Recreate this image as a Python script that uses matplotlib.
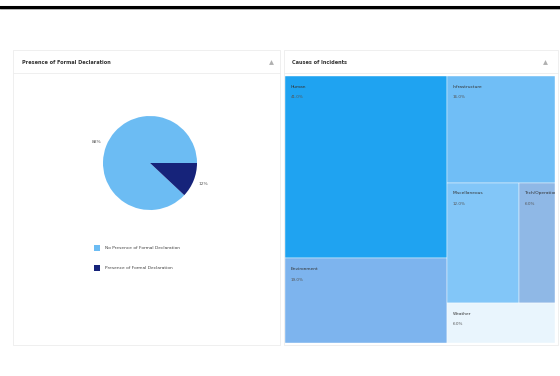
import matplotlib
matplotlib.use("Agg")
import matplotlib.pyplot as plt
from matplotlib.patches import Rectangle
from matplotlib.lines import Line2D

W, H = 560, 376
fig = plt.figure(figsize=(W / 100, H / 100), dpi=100)
fig.patch.set_facecolor("white")

def box(x0, y0, x1, y1):
    return [x0 / W, 1 - y1 / H, (x1 - x0) / W, (y1 - y0) / H]

# ---- data ----
pie_labels = ["No Presence of Formal Declaration", "Presence of Formal Declaration"]
pie_values = [88, 12]
pie_colors = ["#6cbcf3", "#16237a"]

tree_labels = ["Human", "Environment", "Infrastructure", "Miscellaneous", "Tech/Operational", "Weather"]
tree_values = [41, 19, 16, 12, 6, 6]
tree_colors = ["#1fa3f1", "#7db4ee", "#70bef6", "#82c6f8", "#8fb8e6", "#e9f5fd"]

left_title = "Presence of Formal Declaration"
right_title = "Causes of Incidents"

# ---- top rule ----
fig.add_artist(Line2D([0, 1], [1 - 7 / H, 1 - 7 / H], color="black", lw=2.2, transform=fig.transFigure))
fig.add_artist(Line2D([0, 1], [1 - 9.3 / H, 1 - 9.3 / H], color="#999999", lw=0.5, transform=fig.transFigure))

# ---- cards ----
bg = fig.add_axes([0, 0, 1, 1])
bg.set_xlim(0, W); bg.set_ylim(H, 0); bg.axis("off")
bg.add_patch(Rectangle((13, 50), 267, 295, fc="white", ec="#ececec", lw=0.6))
bg.add_patch(Rectangle((284, 50), 274, 295, fc="white", ec="#ececec", lw=0.6))
bg.plot([13, 280], [73, 73], color="#ededed", lw=0.6)
bg.plot([284, 558], [73, 73], color="#ededed", lw=0.6)
bg.text(22, 62, left_title, fontsize=3.6, fontweight="bold", color="#333333", va="center")
bg.text(292, 62, right_title, fontsize=3.6, fontweight="bold", color="#333333", va="center")
for x in (271, 545):
    bg.plot([x], [62], marker="^", ms=3.5, color="#b0b0b0", mec="none")

# ---- pie ----
r = 47
pax = fig.add_axes(box(150 - r, 163 - r, 150 + r, 163 + r))
wedges, _, autotexts = pax.pie(pie_values, colors=pie_colors, startangle=0, counterclock=True,
                               autopct="%1.0f%%", pctdistance=1.22, radius=1.0,
                               textprops=dict(fontsize=3.2, color="#555555"))
pax.set_xlim(-1, 1); pax.set_ylim(-1, 1)
pax.set_aspect("equal")
pax.axis("off")

for i, (lab, col) in enumerate(zip(pie_labels, pie_colors)):
    y = 248 + 20 * i
    bg.add_patch(Rectangle((94, y - 3), 6, 6, fc=col, ec="none"))
    bg.text(105, y, lab, fontsize=3.2, color="#444444", va="center")

# ---- treemap ----
tx0, ty0, tx1, ty1 = 285, 76, 555, 343
tax = fig.add_axes(box(tx0, ty0, tx1, ty1))
tax.set_xlim(0, 1); tax.set_ylim(1, 0); tax.axis("off")

total = sum(tree_values)
left_sum = tree_values[0] + tree_values[1]
right_sum = total - left_sum
lw_ = left_sum / total
rects = []
# left column: stacked vertically
h0 = tree_values[0] / left_sum
rects.append((0, 0, lw_, h0))
rects.append((0, h0, lw_, 1 - h0))
# right column
rw = 1 - lw_
htop = tree_values[2] / right_sum
hmid = (tree_values[3] + tree_values[4]) / right_sum
rects.append((lw_, 0, rw, htop))
wmid = tree_values[3] / (tree_values[3] + tree_values[4])
rects.append((lw_, htop, rw * wmid, hmid))
rects.append((lw_ + rw * wmid, htop, rw * (1 - wmid), hmid))
rects.append((lw_, htop + hmid, rw, 1 - htop - hmid))

for (x, y, w, h), lab, v, c in zip(rects, tree_labels, tree_values, tree_colors):
    tax.add_patch(Rectangle((x, y), w, h, fc=c, ec="white", lw=0.3))
    tax.text(x + 0.02, y + 0.04, lab, fontsize=3.2, color="#333333", va="center", clip_on=True)
    tax.text(x + 0.02, y + 0.08, f"{v}.0%", fontsize=3.0, color="#555555", va="center", clip_on=True)

fig.savefig("out.png", dpi=100, facecolor="white")
